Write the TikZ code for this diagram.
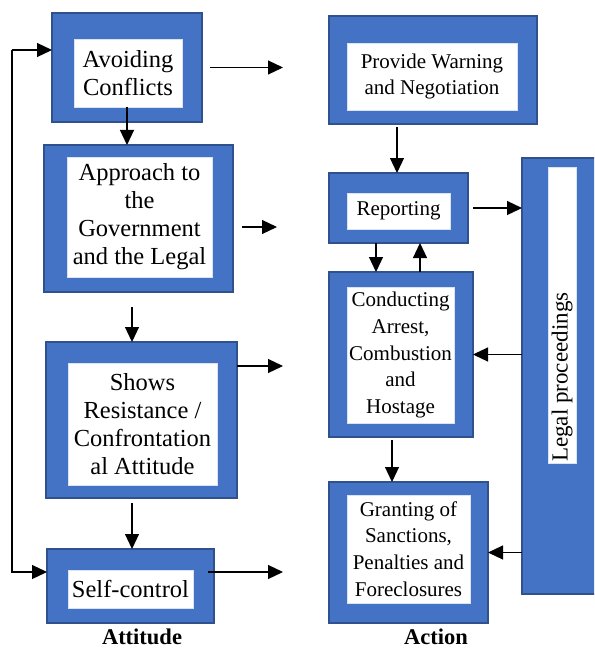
\documentclass[tikz,border=0pt]{standalone}
\usepackage{fontspec}
\setmainfont{Liberation Serif}
\usetikzlibrary{arrows.meta}
\definecolor{boxblue}{HTML}{4472C4}
\definecolor{boxedge}{HTML}{2F528F}
\begin{document}
\begin{tikzpicture}[x=1pt,y=-1pt,
  outerbox/.style={draw=boxedge, line width=1.2pt, fill=boxblue, inner sep=0pt, outer sep=0pt},
  innerbox/.style={fill=white, draw=white!80!boxblue, line width=0.6pt, inner sep=0pt, outer sep=0pt, align=center},
  leftfont/.style={font=\fontsize{24.5}{28}\selectfont},
  rightfont/.style={font=\fontsize{21}{26.7}\selectfont},
  arr/.style={-{Triangle[length=15pt,width=14pt]}, line width=1.2pt},
  lbl/.style={font=\fontsize{22.5}{26}\selectfont\bfseries, inner sep=0pt, anchor=base}]
\clip (0,0) rectangle (594,650);
\fill[white] (0,0) rectangle (594,650);

% Attitude column
\node[outerbox, minimum width=150pt, minimum height=109pt] (avoidO) at (127,67.5) {};
\node[innerbox, leftfont, minimum width=108pt, minimum height=68pt] (avoid) at (128,73) {Avoiding\\Conflicts};

\node[outerbox, minimum width=189pt, minimum height=147pt] (approachO) at (138.5,218.5) {};
\node[innerbox, leftfont, minimum width=145pt, minimum height=120pt] (approach) at (139.5,217) {Approach to\\the\\Government\\and the Legal};

\node[outerbox, minimum width=191pt, minimum height=156pt] (showsO) at (141.5,420) {};
\node[innerbox, leftfont, minimum width=149pt, minimum height=122pt] (shows) at (142.5,424) {Shows\\Resistance /\\Confrontation\\al Attitude};

\node[outerbox, minimum width=167pt, minimum height=74pt] (selfO) at (130.5,586) {};
\node[innerbox, leftfont, minimum width=125pt, minimum height=38pt] (self) at (130.5,589) {Self-control};

% Action column
\node[outerbox, minimum width=208pt, minimum height=108pt] (provideO) at (433,70) {};
\node[innerbox, rightfont, minimum width=170pt, minimum height=67pt] (provide) at (432,76.5) {Provide Warning\\and Negotiation};

\node[outerbox, minimum width=139pt, minimum height=70pt] (reportO) at (398.5,208) {};
\node[innerbox, rightfont, minimum width=103pt, minimum height=36pt] (report) at (398.5,211) {Reporting};

\node[outerbox, minimum width=144pt, minimum height=165pt] (condO) at (401,354.5) {};
\node[innerbox, rightfont, minimum width=107pt, minimum height=136pt] (cond) at (400.5,355) {Conducting\\Arrest,\\Combustion\\and\\Hostage};

\node[outerbox, minimum width=159pt, minimum height=141pt] (grantO) at (408.5,552.5) {};
\node[innerbox, rightfont, minimum width=123pt, minimum height=108pt] (grant) at (408.5,549) {Granting of\\Sanctions,\\Penalties and\\Foreclosures};

\node[outerbox, minimum width=78pt, minimum height=436pt] (legalO) at (561,376) {};
\node[innerbox, minimum width=28pt, minimum height=296pt] (legal) at (562,315) {};
\node[rotate=90, anchor=west, inner sep=0pt, font=\fontsize{23}{27}\selectfont] (legaltxt) at ([yshift=1pt]legal.south) {Legal proceedings};

% labels
\node[lbl] (attitude) at (142,644) {Attitude};
\node[lbl] (action) at (436,644) {Action};

% free arrow ends
\coordinate (a1) at (283,67.5);
\coordinate (a2) at (277,227);
\coordinate (a3) at (283,366);
\coordinate (a4) at (283,572);
\coordinate (lt) at (12,50);
\coordinate (lb) at (12,572);

% feedback loop
\draw[arr] (lt) -- (avoidO.west |- lt);
\draw[arr] (lt) -- (lb) -- (selfO.west |- lb);

% attitude arrows
\draw[arr] ([xshift=8pt]avoidO.east) -- (a1);
\draw[arr] ([xshift=9pt]approachO.east |- a2) -- (a2);
\draw[arr] (showsO.east |- a3) -- (a3);
\draw[arr] ([xshift=-6pt]selfO.east |- a4) -- (a4);
\draw[arr] ([xshift=-1pt]avoid.south) -- ([xshift=-1pt]avoid.south |- approachO.north);
\draw[arr] ([xshift=-6.5pt,yshift=-15pt]approachO.south) -- ([xshift=-6.5pt]approachO.south |- showsO.north);
\draw[arr] ([xshift=-9.5pt,yshift=-5pt]showsO.south) -- ([xshift=-9.5pt]showsO.south |- selfO.north);

% action arrows
\draw[arr] ([xshift=-36pt,yshift=-3pt]provideO.south) -- ([xshift=-36pt]provideO.south |- reportO.north);
\draw[arr] ([xshift=5pt]reportO.east) -- (reportO.east -| legalO.west);
\draw[arr] ([xshift=-22.5pt]reportO.south) -- ([xshift=-22.5pt]reportO.south |- condO.north);
\draw[arr] ([xshift=21.5pt]reportO.south |- condO.north) -- ([xshift=21.5pt]reportO.south);
\draw[arr] (legalO.west |- condO.east) -- (condO.east);
\draw[arr] ([xshift=-9pt,yshift=-3pt]condO.south) -- ([xshift=-9pt]condO.south |- grantO.north);
\draw[arr] (legalO.west |- grantO.east) -- (grantO.east);
\end{tikzpicture}
\end{document}
